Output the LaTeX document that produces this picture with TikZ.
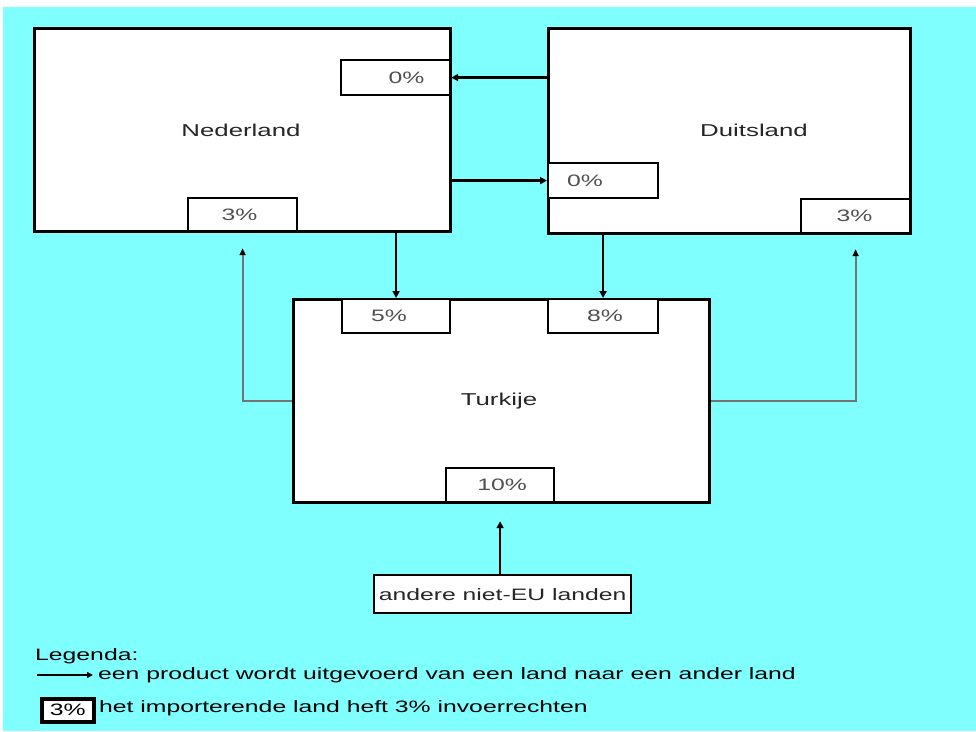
\documentclass[tikz,border=0pt]{standalone}
\usepackage{fontspec}
\setmainfont{Liberation Sans}[FakeStretch=1.5]
\usetikzlibrary{arrows.meta,calc}
\definecolor{bgcyan}{RGB}{128,255,255}
\definecolor{pctgray}{RGB}{80,80,80}
\definecolor{linkgray}{RGB}{115,115,115}
\begin{document}
\begin{tikzpicture}[x=1pt,y=-1pt,
  txt/.style={font=\fontsize{16.5}{19}\selectfont,inner sep=0pt},
  land/.style={draw=black,line width=2.6pt,fill=white,anchor=north west,inner sep=0pt},
  duty/.style={draw=black,line width=2.2pt,fill=white,anchor=north west,inner sep=0pt},
  pct/.style={txt,text=pctgray},
  cname/.style={font=\fontsize{17.2}{20}\selectfont,inner sep=0pt,text=black!85},
  arr/.style={line width=2.4pt,draw=black,-{Triangle[length=7pt,width=7pt]}},
  garr/.style={line width=2.2pt,draw=linkgray,-{Triangle[length=7pt,width=6pt,fill=black,color=black]}}
]
\useasboundingbox (0,0) rectangle (976,731);
\fill[white] (0,0) rectangle (976,731);
\fill[bgcyan] (3,7) rectangle (976,731);

% country boxes
\node[land,minimum width=416pt,minimum height=203pt] (nl) at (33,27) {};
\node[cname] (nlt) at (241,130) {Nederland};
\node[land,minimum width=362pt,minimum height=205pt] (de) at (547,27) {};
\node[cname] (det) at (754,130) {Duitsland};
\node[land,minimum width=416pt,minimum height=203pt] (tr) at (292,298) {};
\node[cname] (trt) at (499,401) {Turkije};

% duty boxes
\node[duty,minimum width=109pt,minimum height=35pt,label={[pct,xshift=11pt]center:0\%}] (nl0) at (340,59) {};
\node[duty,minimum width=109pt,minimum height=33pt,label={[pct,xshift=-3pt]center:3\%}] (nl3) at (187,197) {};
\node[duty,minimum width=110pt,minimum height=35pt,label={[pct,xshift=-18pt]center:0\%}] (de0) at (547,162) {};
\node[duty,minimum width=109pt,minimum height=34pt,label={[pct,xshift=-1pt]center:3\%}] (de3) at (800,198) {};
\node[duty,minimum width=108pt,minimum height=34pt,label={[pct,xshift=-7pt]center:5\%}] (tr5) at (341,298) {};
\node[duty,minimum width=110pt,minimum height=34pt,label={[pct,xshift=2pt]center:8\%}] (tr8) at (547,298) {};
\node[duty,minimum width=108pt,minimum height=34pt,label={[pct,xshift=2pt]center:10\%}] (tr10) at (445,467) {};
\node[duty,minimum width=257pt,minimum height=38pt,label={[txt,text=black!85]center:andere niet-EU landen}] (other) at (373,574) {};

% export arrows
\draw[arr] (de.west |- nl0.east) -- (nl0.east);
\draw[arr] (nl.east |- de0.west) -- (de0.west);
\draw[arr] (nl.south -| tr5.north) -- (tr5.north);
\draw[arr] (de.south -| tr8.north) -- (tr8.north);
\draw[garr,shorten >=16pt] (tr.west) -| (nl3.south);
\draw[garr,shorten >=15pt] (tr.east) -| (de3.south);
\draw[arr,shorten >=18pt] (other.north -| tr10.south) -- (tr10.south);

% legend
\node[txt,anchor=west] (leg) at (35,656) {Legenda:};
\coordinate (la) at (37,675);
\node[txt,anchor=west] (lt1) at (98,675) {een product wordt uitgevoerd van een land naar een ander land};
\draw[line width=2.6pt,-{Triangle[length=6pt,width=6pt]},shorten >=5pt] (la) -- (lt1.west);
\node[draw=black,line width=3.5pt,fill=white,anchor=north west,inner sep=0pt,minimum width=52pt,minimum height=23pt,
  label={[txt,text=black]center:3\%}] (lbox) at (40,697) {};
\node[txt,anchor=west] (lt2) at (99,708) {het importerende land heft 3\% invoerrechten};
\end{tikzpicture}
\end{document}
